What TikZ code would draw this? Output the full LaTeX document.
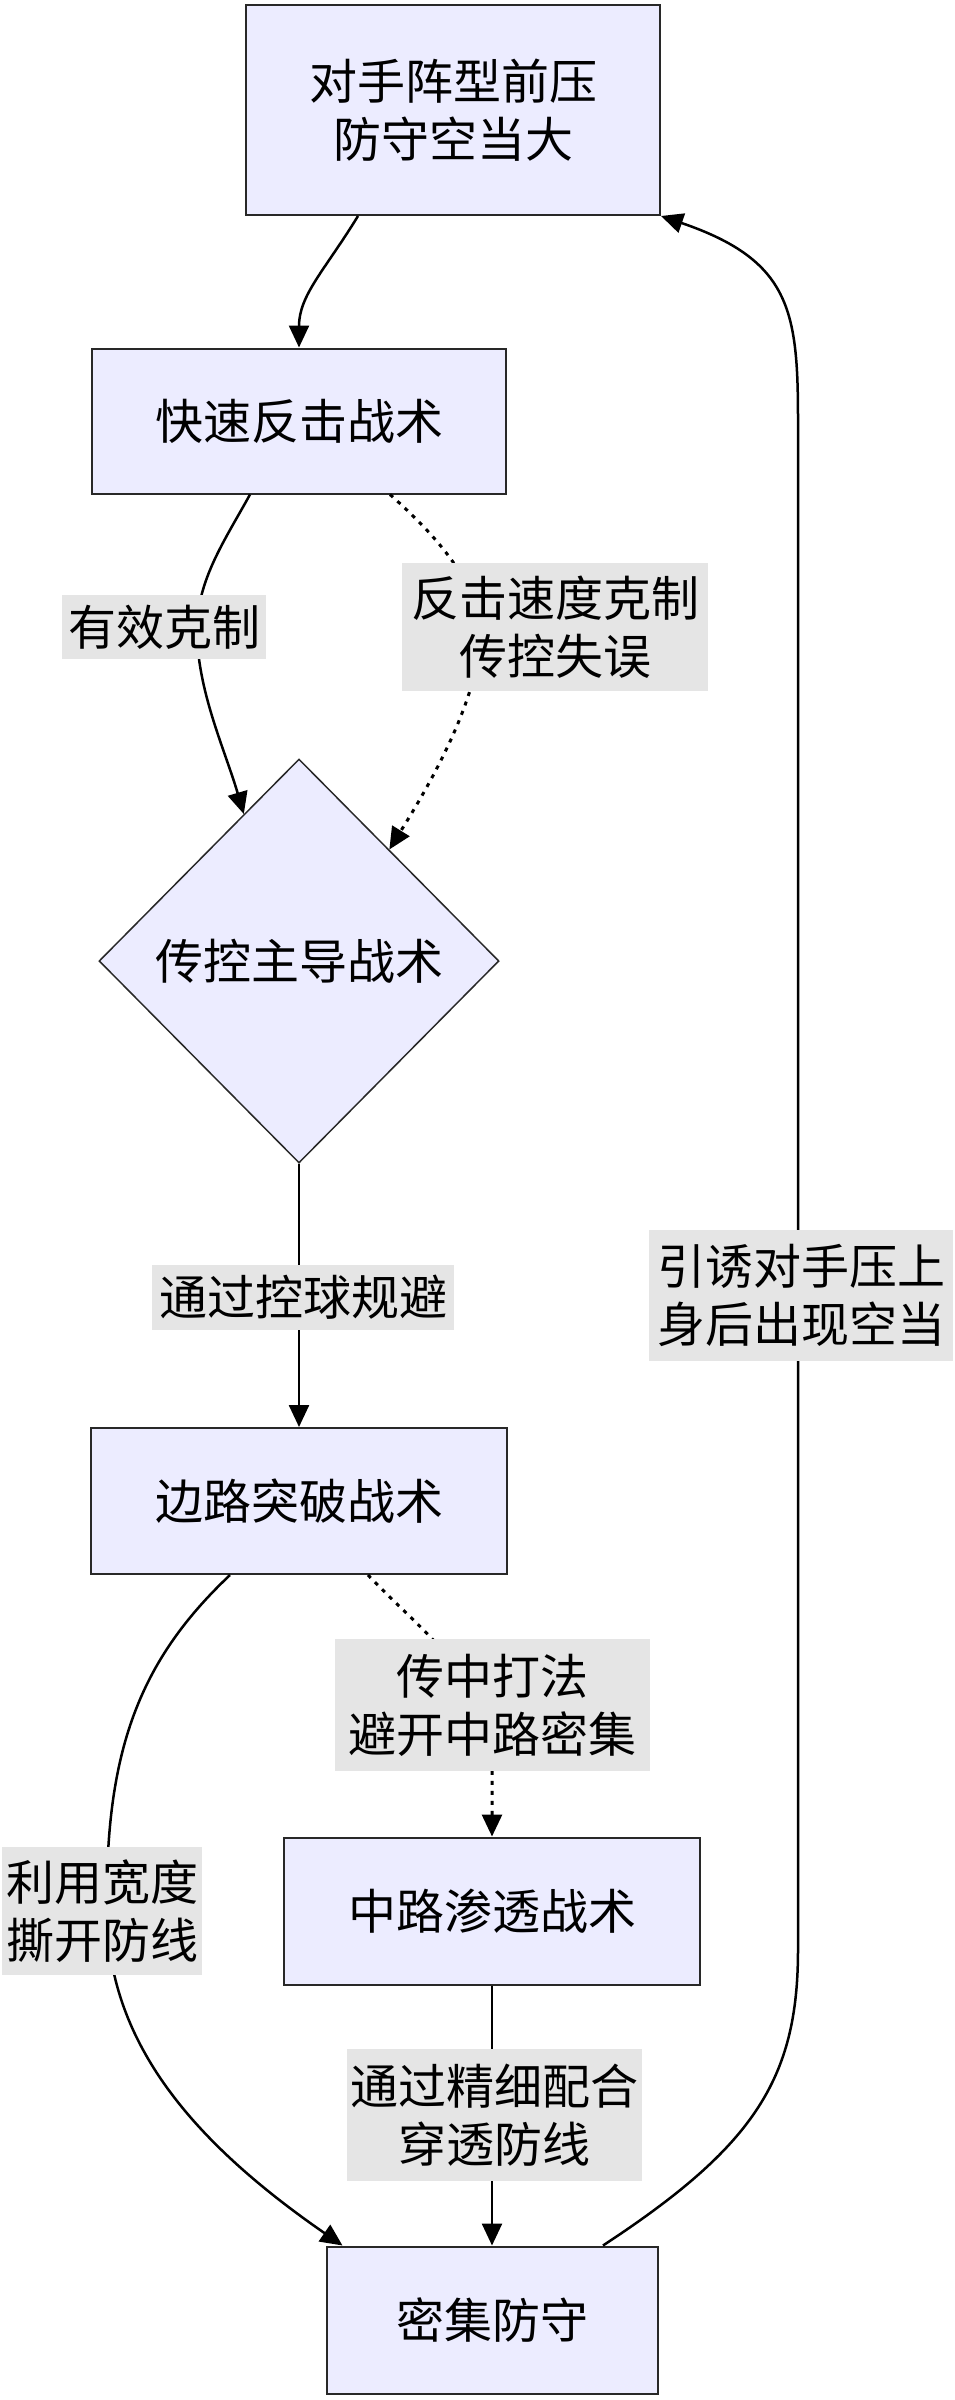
\documentclass[tikz,border=0pt]{standalone}
\usepackage{fontspec}
\newfontfamily\cjk{Noto Sans CJK SC}
\usetikzlibrary{arrows.meta,shapes.geometric,calc}
\definecolor{boxfill}{RGB}{236,236,255}
\definecolor{boxline}{RGB}{40,40,40}
\definecolor{lblfill}{RGB}{229,229,229}
\tikzset{
  every node/.style={font=\cjk\fontsize{48}{58}\selectfont, align=center, inner sep=0pt},
  procbox/.style={draw=boxline, fill=boxfill, line width=2pt, rectangle},
  decbox/.style={draw=boxline, fill=boxfill, line width=1.5pt, diamond, shape aspect=1},
  lbl/.style={fill=lblfill},
  arr/.style={line width=2.5pt, -{Triangle[length=22pt,width=20pt]}},
  dotarr/.style={arr, line width=3pt, dash pattern=on 4pt off 6pt},
}
\begin{document}
\begin{tikzpicture}[x=1pt,y=-1pt]
\useasboundingbox (0,0) rectangle (955,2400);
% nodes
\node[procbox, minimum width=414pt, minimum height=210pt] (top) at (453,110) {对手阵型前压\\防守空当大};
\node[procbox, minimum width=414pt, minimum height=145pt] (fast) at (299,421) {快速反击战术};
\node[decbox, minimum width=400pt, minimum height=404pt] (dia) at (299,961) {传控主导战术};
\node[procbox, minimum width=416pt, minimum height=146pt] (side) at (299,1501) {边路突破战术};
\node[procbox, minimum width=416pt, minimum height=147pt] (mid) at (492,1911) {中路渗透战术};
\node[procbox, minimum width=331pt, minimum height=147pt] (dense) at (492,2320) {密集防守};
% edges
\draw[arr] ([xshift=-95pt]top.south) .. controls (325,270) and (299,295) .. (fast.north);
\draw[arr] ([xshift=-49pt]fast.south) .. controls (225,540) and (197,580) .. (197,630)
   .. controls (197,690) and (225,750) .. ($(dia.north)!0.275!(dia.west)$);
\draw[dotarr] ([xshift=91pt]fast.south) .. controls (430,530) and (478,580) .. (480,630)
   .. controls (482,700) and (420,800) .. ($(dia.north)!0.45!(dia.east)$);
\draw[arr] (dia.south) -- (side.north);
\draw[dotarr] ([xshift=69pt]side.south) .. controls (420,1630) and (492,1680) .. (492,1760) -- (mid.north);
\draw[arr] ([xshift=-69pt]side.south) .. controls (140,1660) and (105,1750) .. (107,1910)
   .. controls (107,2040) and (190,2140) .. ([xshift=17pt]dense.north west);
\draw[arr] (mid.south) -- (dense.north);
\draw[arr] ([xshift=111pt]dense.north) .. controls (753,2147) and (798,2080) .. (798,1950)
   -- (798,420) .. controls (798,310) and (790,260) .. (top.south east);
% edge labels
\node[lbl, minimum width=204pt, minimum height=64pt] (l1) at (164,627) {有效克制};
\node[lbl, minimum width=306pt, minimum height=128pt] (l2) at (555,627) {反击速度克制\\传控失误};
\node[lbl, minimum width=302pt, minimum height=65pt] (l3) at (303,1297) {通过控球规避};
\node[lbl, minimum width=304pt, minimum height=131pt] (l4) at (801,1295) {引诱对手压上\\身后出现空当};
\node[lbl, minimum width=315pt, minimum height=132pt] (l5) at (492,1705) {传中打法\\避开中路密集};
\node[lbl, minimum width=200pt, minimum height=128pt] (l6) at (102,1911) {利用宽度\\撕开防线};
\node[lbl, minimum width=295pt, minimum height=132pt] (l7) at (494,2115) {通过精细配合\\穿透防线};
\end{tikzpicture}
\end{document}
